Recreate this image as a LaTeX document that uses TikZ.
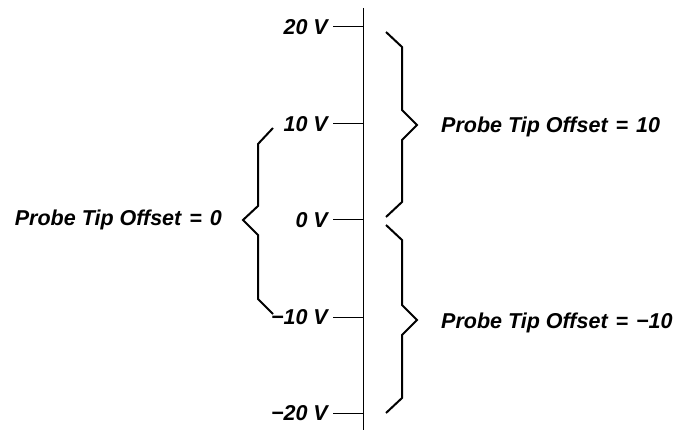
\documentclass[tikz,border=0pt]{standalone}
\usepackage{fontspec}
\setmainfont{Liberation Sans}
\usetikzlibrary{positioning}
\tikzset{
  axisln/.style ={line width=1pt, draw=black},
  brace/.style  ={line width=2pt, draw=black, line join=miter},
  tick/.style   ={font=\fontsize{21.5}{24}\selectfont\bfseries\itshape, anchor=east, inner sep=5pt},
  offlbl/.style ={font=\fontsize{21.5}{25}\selectfont\bfseries\itshape, inner sep=0pt},
}
\begin{document}
\begin{tikzpicture}[x=1pt, y=-1pt]
\useasboundingbox (0,0) rectangle (679,430);
% axis
\coordinate (top) at (363,8);
\coordinate (bot) at (363,430);
\draw[axisln] (top) -- (bot);
% ticks and voltage labels
\foreach \n/\y/\txt in {p20/27/20 V, p10/124/10 V, z/220/0 V, m10/317/−10 V, m20/413/−20 V}{
  \node[tick] (l\n) at (333,\y) {\txt};
  \coordinate (t\n) at (363,\y);
  \draw[axisln] (l\n.east) -- (t\n);
}
% offset labels
\node[offlbl, anchor=west] (off10) at (441,127) {Probe Tip Offset\hspace{2pt} = \hspace{2pt}10};
\node[offlbl, anchor=west] (offm10) at (441,323) {Probe Tip Offset\hspace{2pt} = \hspace{2pt}−10};
\node[offlbl, anchor=east] (off0) at (222,220) {Probe Tip Offset\hspace{2pt} = \hspace{2pt}0};
% braces
\foreach \ya/\yt/\yb in {32/125/217, 225/320/413}
  \draw[brace] (386,\ya) -- ++(16,15) -- (402,{\yt-15}) -- ++(15,15) -- ++(-15,15)
    -- (402,{\yb-15}) -- ++(-16,15);
\draw[brace] (273,128) -- ++(-15,16) -- (258,{220-14}) -- ++(-15,14) -- ++(15,15)
  -- (258,299) -- ++(15,15);
\end{tikzpicture}
\end{document}
